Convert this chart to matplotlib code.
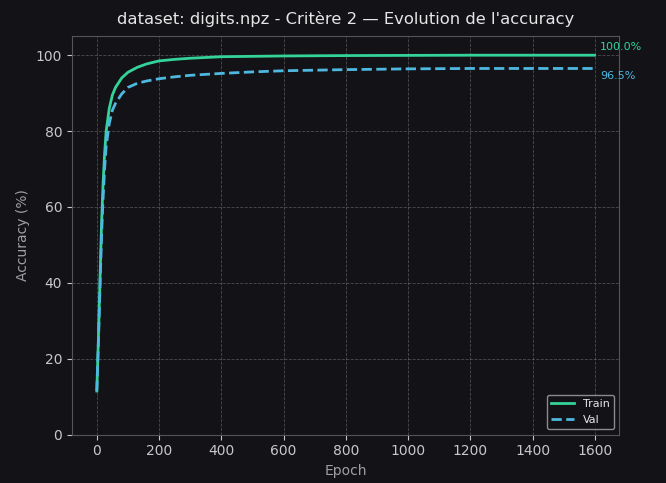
import matplotlib
matplotlib.use("Agg")
import matplotlib.pyplot as plt

epochs = [0, 5, 10, 15, 20, 25, 30, 40, 50, 60, 80, 100, 130, 160, 200, 250, 300, 400, 500, 600, 800, 1000, 1200, 1400, 1599]
train_acc = [11.5, 25, 40, 55, 66, 74, 80, 86, 89.5, 91.5, 94, 95.5, 96.8, 97.7, 98.5, 98.9, 99.2, 99.6, 99.7, 99.8, 99.9, 99.95, 100.0, 100.0, 100.0]
val_acc = [11.5, 24, 38, 52, 62, 70, 76, 82, 85.5, 87.3, 89.8, 91.5, 92.6, 93.2, 93.8, 94.3, 94.7, 95.2, 95.6, 95.9, 96.2, 96.4, 96.5, 96.5, 96.5]

bg = "#121217"
txt = "#c8c8c8"
c_train = "#34d399"
c_val = "#4fb8e0"

fig, ax = plt.subplots(figsize=(6.66, 4.83), dpi=100)
fig.patch.set_facecolor(bg)
ax.set_facecolor(bg)

ax.plot(epochs, train_acc, '-', color=c_train, lw=2, label="Train")
ax.plot(epochs, val_acc, '--', color=c_val, lw=2, label="Val")

ax.set_ylim(0, 105)
ax.set_title("dataset: digits.npz - Critère 2 — Evolution de l'accuracy", color="#e6e6e6", fontsize=11.8, pad=9)
ax.set_xlabel("Epoch", color="#a0a0a0", fontsize=10)
ax.set_ylabel("Accuracy (%)", color="#a0a0a0", fontsize=10)
ax.tick_params(colors=txt, labelsize=10)
for s in ax.spines.values():
    s.set_color("#555555")
ax.grid(True, color="#888888", ls="--", lw=0.6, alpha=0.5)

# étiquettes des valeurs finales
ax.annotate(f"{train_acc[-1]:.1f}%", (epochs[-1], train_acc[-1]), xytext=(4, 2),
            textcoords="offset points", color=c_train, fontsize=8, va="bottom")
ax.annotate(f"{val_acc[-1]:.1f}%", (epochs[-1], val_acc[-1]), xytext=(4, -2),
            textcoords="offset points", color=c_val, fontsize=8, va="top")

leg = ax.legend(loc="lower right", fontsize=8, facecolor=bg, edgecolor="#aaaaaa")
for t in leg.get_texts():
    t.set_color("#e6e6e6")

fig.subplots_adjust(left=0.108, right=0.93, top=0.925, bottom=0.1)
fig.savefig("out.png", dpi=100, facecolor=bg)
